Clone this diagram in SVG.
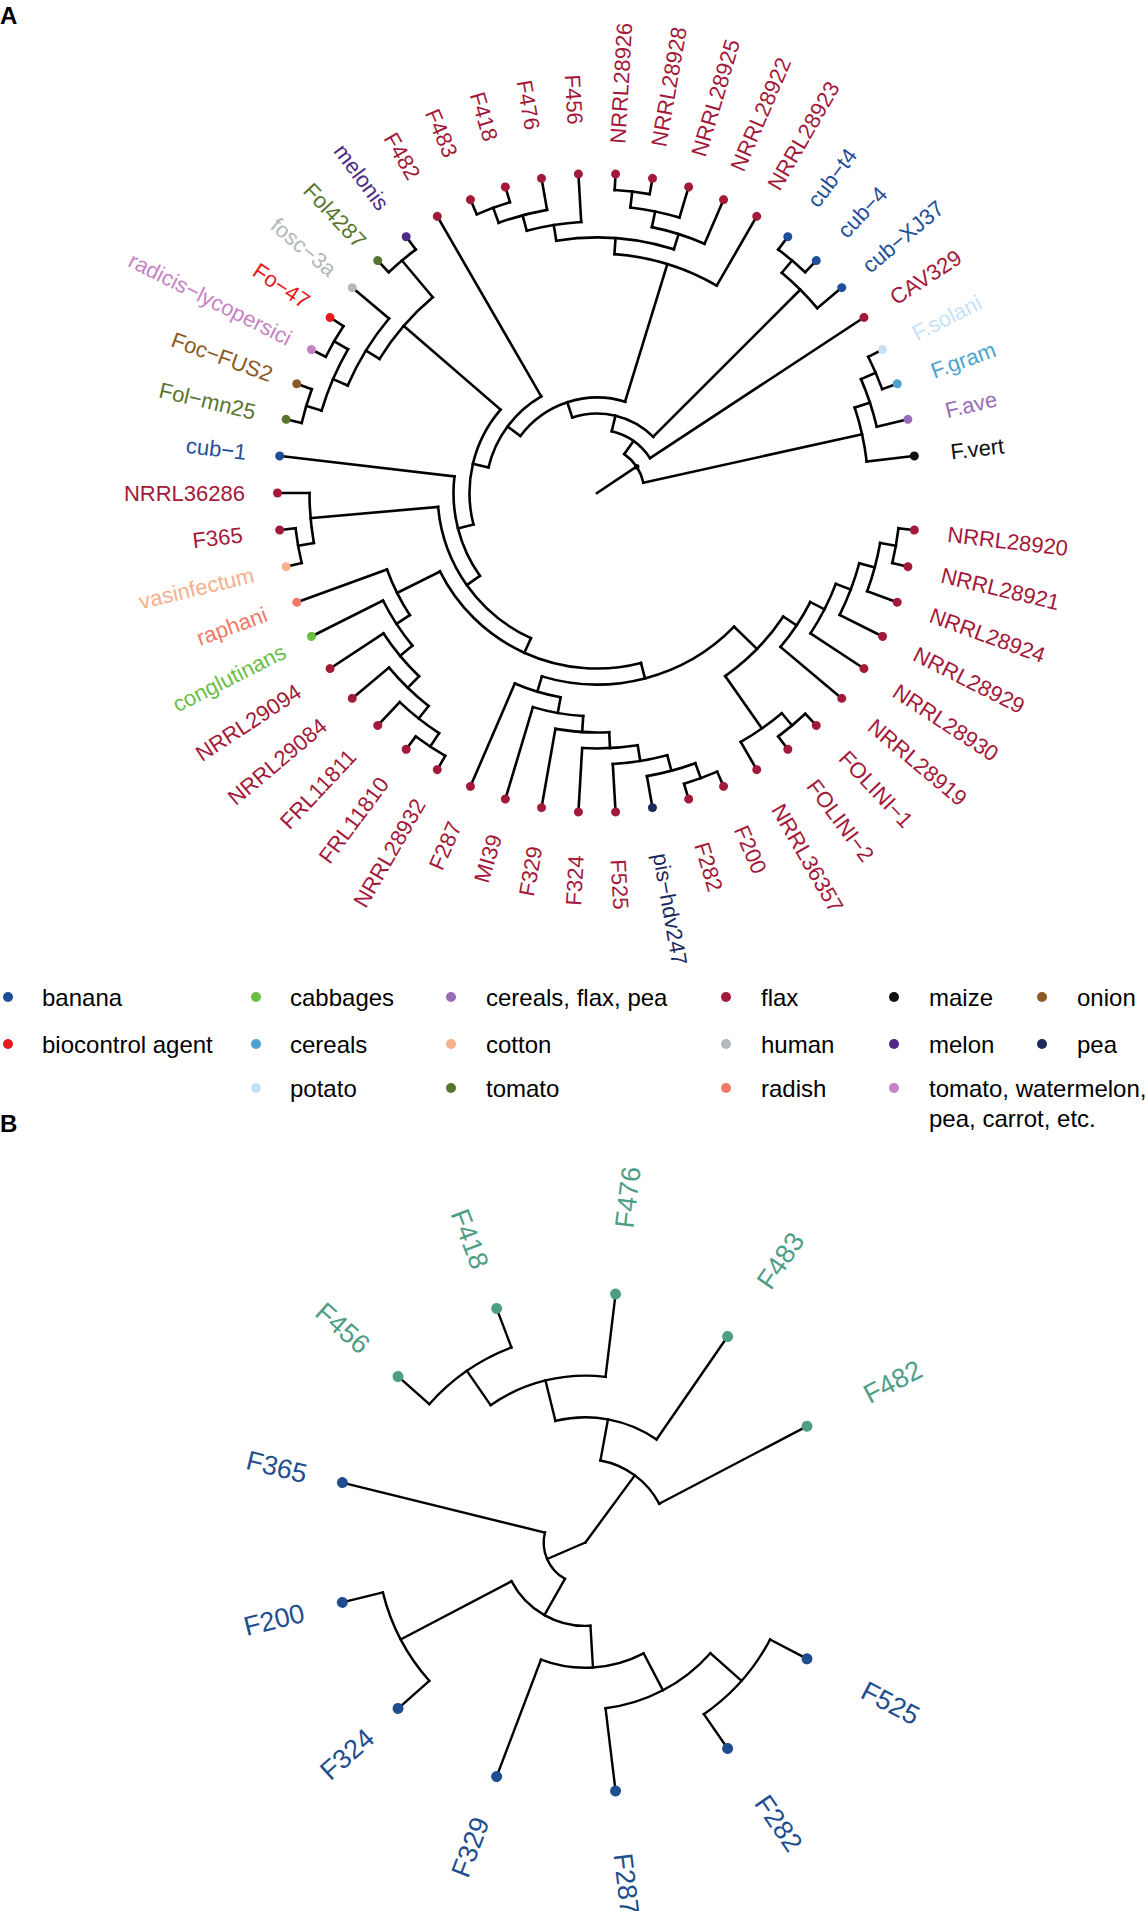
<svg xmlns="http://www.w3.org/2000/svg" width="1147" height="1911" viewBox="0 0 1147 1911">
<style>
.e{fill:none;stroke:#000;stroke-width:2.6;stroke-linecap:square}
.eb{fill:none;stroke:#000;stroke-width:2.4;stroke-linecap:square}
text{font-family:"Liberation Sans",Arial,Helvetica,sans-serif}
.ta{font-size:22px}
.tb{font-size:27px}
.f{text-anchor:end}
.lg{font-size:24px}
.pl{font-size:24px;font-weight:bold}
.flax{fill:#A3193A}.ban{fill:#1F4E99}.pea{fill:#1B2A5C}.bio{fill:#E41A1C}.cab{fill:#6ABE45}
.cer{fill:#4BA3CF}.pot{fill:#C6E2F7}.cfp{fill:#9B6DB8}.cot{fill:#F7B08C}.tom{fill:#59752D}
.hum{fill:#B3B8BA}.rad{fill:#F27866}.mai{fill:#111111}.mel{fill:#4E2A87}.twp{fill:#C683C3}.oni{fill:#8D5A26}
.teal{fill:#4E9E86}.blue{fill:#1F4E8F}
</style>
<rect width="1147" height="1911" fill="#fff"/>
<text class="pl" x="0" y="24">A</text>
<text class="pl" x="0" y="1132">B</text>

<!-- ===== Tree A connectors ===== -->
<g id="edgesA" class="e" transform="translate(597,493)">
<line x1="287.5" x2="303.5" transform="rotate(10)"/>
<line x1="271.5" x2="287.5" transform="rotate(15)"/>
<line x1="255.5" x2="271.5" transform="rotate(20.833)"/>
<line x1="239.5" x2="255.5" transform="rotate(27.083)"/>
<line x1="223.5" x2="239.5" transform="rotate(33.542)"/>
<line x1="287.5" x2="303.5" transform="rotate(50)"/>
<line x1="223.5" x2="287.5" transform="rotate(55)"/>
<line x1="191.5" x2="223.5" transform="rotate(44.271)"/>
<line x1="287.5" x2="303.5" transform="rotate(70)"/>
<line x1="271.5" x2="287.5" transform="rotate(75)"/>
<line x1="255.5" x2="271.5" transform="rotate(80.833)"/>
<line x1="239.5" x2="255.5" transform="rotate(87.083)"/>
<line x1="223.5" x2="239.5" transform="rotate(93.542)"/>
<line x1="207.5" x2="223.5" transform="rotate(100.104)"/>
<line x1="191.5" x2="207.5" transform="rotate(106.719)"/>
<line x1="175.5" x2="191.5" transform="rotate(75.495)"/>
<line x1="287.5" x2="303.5" transform="rotate(123.333)"/>
<line x1="271.5" x2="287.5" transform="rotate(128.333)"/>
<line x1="255.5" x2="271.5" transform="rotate(134.167)"/>
<line x1="239.5" x2="255.5" transform="rotate(140.417)"/>
<line x1="223.5" x2="239.5" transform="rotate(146.875)"/>
<line x1="175.5" x2="223.5" transform="rotate(153.438)"/>
<line x1="159.5" x2="175.5" transform="rotate(114.466)"/>
<line x1="287.5" x2="303.5" transform="rotate(170)"/>
<line x1="159.5" x2="287.5" transform="rotate(175)"/>
<line x1="143.5" x2="159.5" transform="rotate(144.733)"/>
<line x1="127.5" x2="143.5" transform="rotate(165.7)"/>
<line x1="287.5" x2="303.5" transform="rotate(196.667)"/>
<line x1="287.5" x2="303.5" transform="rotate(210)"/>
<line x1="271.5" x2="287.5" transform="rotate(203.333)"/>
<line x1="255.5" x2="271.5" transform="rotate(211.667)"/>
<line x1="255.5" x2="303.5" transform="rotate(230)"/>
<line x1="127.5" x2="255.5" transform="rotate(220.833)"/>
<line x1="111.5" x2="127.5" transform="rotate(193.27)"/>
<line x1="95.5" x2="111.5" transform="rotate(216.63)"/>
<line x1="287.5" x2="303.5" transform="rotate(250)"/>
<line x1="271.5" x2="287.5" transform="rotate(255)"/>
<line x1="255.5" x2="271.5" transform="rotate(260.833)"/>
<line x1="287.5" x2="303.5" transform="rotate(276.667)"/>
<line x1="271.5" x2="287.5" transform="rotate(281.667)"/>
<line x1="255.5" x2="271.5" transform="rotate(287.5)"/>
<line x1="239.5" x2="255.5" transform="rotate(274.167)"/>
<line x1="95.5" x2="239.5" transform="rotate(287.083)"/>
<line x1="79.5" x2="95.5" transform="rotate(251.86)"/>
<line x1="287.5" x2="303.5" transform="rotate(310)"/>
<line x1="79.5" x2="287.5" transform="rotate(315)"/>
<line x1="63.5" x2="79.5" transform="rotate(283.43)"/>
<line x1="47.5" x2="63.5" transform="rotate(305.05)"/>
<line x1="287.5" x2="303.5" transform="rotate(336.667)"/>
<line x1="271.5" x2="287.5" transform="rotate(341.667)"/>
<line x1="47.5" x2="271.5" transform="rotate(347.5)"/>
<line x1="0" x2="47.5" transform="rotate(326.29)"/>
<!-- tip branches -->
<line x1="303.5" x2="319.5" transform="rotate(6.667)"/>
<line x1="303.5" x2="319.5" transform="rotate(13.333)"/>
<line x1="287.5" x2="319.5" transform="rotate(20)"/>
<line x1="271.5" x2="319.5" transform="rotate(26.667)"/>
<line x1="255.5" x2="319.5" transform="rotate(33.333)"/>
<line x1="239.5" x2="319.5" transform="rotate(40)"/>
<line x1="303.5" x2="319.5" transform="rotate(46.667)"/>
<line x1="303.5" x2="319.5" transform="rotate(53.333)"/>
<line x1="287.5" x2="319.5" transform="rotate(60)"/>
<line x1="303.5" x2="319.5" transform="rotate(66.667)"/>
<line x1="303.5" x2="319.5" transform="rotate(73.333)"/>
<line x1="287.5" x2="319.5" transform="rotate(80)"/>
<line x1="271.5" x2="319.5" transform="rotate(86.667)"/>
<line x1="255.5" x2="319.5" transform="rotate(93.333)"/>
<line x1="239.5" x2="319.5" transform="rotate(100)"/>
<line x1="223.5" x2="319.5" transform="rotate(106.667)"/>
<line x1="207.5" x2="319.5" transform="rotate(113.333)"/>
<line x1="303.5" x2="319.5" transform="rotate(120)"/>
<line x1="303.5" x2="319.5" transform="rotate(126.667)"/>
<line x1="287.5" x2="319.5" transform="rotate(133.333)"/>
<line x1="271.5" x2="319.5" transform="rotate(140)"/>
<line x1="255.5" x2="319.5" transform="rotate(146.667)"/>
<line x1="239.5" x2="319.5" transform="rotate(153.333)"/>
<line x1="223.5" x2="319.5" transform="rotate(160)"/>
<line x1="303.5" x2="319.5" transform="rotate(166.667)"/>
<line x1="303.5" x2="319.5" transform="rotate(173.333)"/>
<line x1="287.5" x2="319.5" transform="rotate(180)"/>
<line x1="143.5" x2="319.5" transform="rotate(186.667)"/>
<line x1="303.5" x2="319.5" transform="rotate(193.333)"/>
<line x1="303.5" x2="319.5" transform="rotate(200)"/>
<line x1="303.5" x2="319.5" transform="rotate(206.667)"/>
<line x1="303.5" x2="319.5" transform="rotate(213.333)"/>
<line x1="271.5" x2="319.5" transform="rotate(220)"/>
<line x1="303.5" x2="319.5" transform="rotate(226.667)"/>
<line x1="303.5" x2="319.5" transform="rotate(233.333)"/>
<line x1="111.5" x2="319.5" transform="rotate(240)"/>
<line x1="303.5" x2="319.5" transform="rotate(246.667)"/>
<line x1="303.5" x2="319.5" transform="rotate(253.333)"/>
<line x1="287.5" x2="319.5" transform="rotate(260)"/>
<line x1="271.5" x2="319.5" transform="rotate(266.667)"/>
<line x1="303.5" x2="319.5" transform="rotate(273.333)"/>
<line x1="303.5" x2="319.5" transform="rotate(280)"/>
<line x1="287.5" x2="319.5" transform="rotate(286.667)"/>
<line x1="271.5" x2="319.5" transform="rotate(293.333)"/>
<line x1="239.5" x2="319.5" transform="rotate(300)"/>
<line x1="303.5" x2="319.5" transform="rotate(306.667)"/>
<line x1="303.5" x2="319.5" transform="rotate(313.333)"/>
<line x1="287.5" x2="319.5" transform="rotate(320)"/>
<line x1="63.5" x2="319.5" transform="rotate(326.667)"/>
<line x1="303.5" x2="319.5" transform="rotate(333.333)"/>
<line x1="303.5" x2="319.5" transform="rotate(340)"/>
<line x1="287.5" x2="319.5" transform="rotate(346.667)"/>
<line x1="271.5" x2="319.5" transform="rotate(353.333)"/>
<!-- arcs -->
<circle r="303.5" transform="rotate(6.667)" stroke-dasharray="35.31 4000"/>
<circle r="287.5" transform="rotate(10)" stroke-dasharray="50.18 4000"/>
<circle r="271.5" transform="rotate(15)" stroke-dasharray="55.28 4000"/>
<circle r="255.5" transform="rotate(20.833)" stroke-dasharray="55.74 4000"/>
<circle r="239.5" transform="rotate(27.083)" stroke-dasharray="53.99 4000"/>
<circle r="303.5" transform="rotate(46.667)" stroke-dasharray="35.31 4000"/>
<circle r="287.5" transform="rotate(50)" stroke-dasharray="50.18 4000"/>
<circle r="223.5" transform="rotate(33.542)" stroke-dasharray="83.70 4000"/>
<circle r="303.5" transform="rotate(66.667)" stroke-dasharray="35.31 4000"/>
<circle r="287.5" transform="rotate(70)" stroke-dasharray="50.18 4000"/>
<circle r="271.5" transform="rotate(75)" stroke-dasharray="55.28 4000"/>
<circle r="255.5" transform="rotate(80.833)" stroke-dasharray="55.74 4000"/>
<circle r="239.5" transform="rotate(87.083)" stroke-dasharray="53.99 4000"/>
<circle r="223.5" transform="rotate(93.542)" stroke-dasharray="51.20 4000"/>
<circle r="207.5" transform="rotate(100.104)" stroke-dasharray="47.91 4000"/>
<circle r="191.5" transform="rotate(44.271)" stroke-dasharray="208.72 4000"/>
<circle r="303.5" transform="rotate(120)" stroke-dasharray="35.31 4000"/>
<circle r="287.5" transform="rotate(123.333)" stroke-dasharray="50.18 4000"/>
<circle r="271.5" transform="rotate(128.333)" stroke-dasharray="55.28 4000"/>
<circle r="255.5" transform="rotate(134.167)" stroke-dasharray="55.74 4000"/>
<circle r="239.5" transform="rotate(140.417)" stroke-dasharray="53.99 4000"/>
<circle r="223.5" transform="rotate(146.875)" stroke-dasharray="51.20 4000"/>
<circle r="175.5" transform="rotate(75.495)" stroke-dasharray="238.74 4000"/>
<circle r="303.5" transform="rotate(166.667)" stroke-dasharray="35.31 4000"/>
<circle r="287.5" transform="rotate(170)" stroke-dasharray="50.18 4000"/>
<circle r="159.5" transform="rotate(114.466)" stroke-dasharray="168.51 4000"/>
<circle r="143.5" transform="rotate(144.733)" stroke-dasharray="105.03 4000"/>
<circle r="303.5" transform="rotate(193.333)" stroke-dasharray="35.31 4000"/>
<circle r="303.5" transform="rotate(206.667)" stroke-dasharray="35.31 4000"/>
<circle r="287.5" transform="rotate(196.667)" stroke-dasharray="66.90 4000"/>
<circle r="271.5" transform="rotate(203.333)" stroke-dasharray="78.98 4000"/>
<circle r="303.5" transform="rotate(226.667)" stroke-dasharray="35.31 4000"/>
<circle r="255.5" transform="rotate(211.667)" stroke-dasharray="81.75 4000"/>
<circle r="127.5" transform="rotate(165.7)" stroke-dasharray="122.69 4000"/>
<circle r="111.5" transform="rotate(193.27)" stroke-dasharray="90.94 4000"/>
<circle r="303.5" transform="rotate(246.667)" stroke-dasharray="35.31 4000"/>
<circle r="287.5" transform="rotate(250)" stroke-dasharray="50.18 4000"/>
<circle r="271.5" transform="rotate(255)" stroke-dasharray="55.28 4000"/>
<circle r="303.5" transform="rotate(273.333)" stroke-dasharray="35.31 4000"/>
<circle r="287.5" transform="rotate(276.667)" stroke-dasharray="50.18 4000"/>
<circle r="271.5" transform="rotate(281.667)" stroke-dasharray="55.28 4000"/>
<circle r="255.5" transform="rotate(260.833)" stroke-dasharray="118.92 4000"/>
<circle r="239.5" transform="rotate(274.167)" stroke-dasharray="107.98 4000"/>
<circle r="95.5" transform="rotate(216.63)" stroke-dasharray="117.43 4000"/>
<circle r="303.5" transform="rotate(306.667)" stroke-dasharray="35.31 4000"/>
<circle r="287.5" transform="rotate(310)" stroke-dasharray="50.18 4000"/>
<circle r="79.5" transform="rotate(251.86)" stroke-dasharray="87.61 4000"/>
<circle r="63.5" transform="rotate(283.43)" stroke-dasharray="47.92 4000"/>
<circle r="303.5" transform="rotate(333.333)" stroke-dasharray="35.31 4000"/>
<circle r="287.5" transform="rotate(336.667)" stroke-dasharray="50.18 4000"/>
<circle r="271.5" transform="rotate(341.667)" stroke-dasharray="55.28 4000"/>
<circle r="47.5" transform="rotate(305.05)" stroke-dasharray="35.19 4000"/>
</g>
<circle cx="636.7" cy="466.7" r="2.8" fill="#000"/>

<!-- ===== Tree A tips ===== -->
<g id="tipsA" transform="translate(597,493)">
<g id="A-NRRL28920" class="flax" transform="rotate(6.667)"><circle cx="319.5" r="4.5"/><text class="ta" x="353" dy=".36em">NRRL28920</text></g>
<g id="A-NRRL28921" class="flax" transform="rotate(13.333)"><circle cx="319.5" r="4.5"/><text class="ta" x="354" dy=".36em">NRRL28921</text></g>
<g id="A-NRRL28924" class="flax" transform="rotate(20)"><circle cx="319.5" r="4.5"/><text class="ta" x="355" dy=".36em">NRRL28924</text></g>
<g id="A-NRRL28929" class="flax" transform="rotate(26.667)"><circle cx="319.5" r="4.5"/><text class="ta" x="356" dy=".36em">NRRL28929</text></g>
<g id="A-NRRL28930" class="flax" transform="rotate(33.333)"><circle cx="319.5" r="4.5"/><text class="ta" x="357" dy=".36em">NRRL28930</text></g>
<g id="A-NRRL28919" class="flax" transform="rotate(40)"><circle cx="319.5" r="4.5"/><text class="ta" x="358" dy=".36em">NRRL28919</text></g>
<g id="A-FOLINI-1" class="flax" transform="rotate(46.667)"><circle cx="319.5" r="4.5"/><text class="ta" x="359" dy=".36em">FOLINI−1</text></g>
<g id="A-FOLINI-2" class="flax" transform="rotate(53.333)"><circle cx="319.5" r="4.5"/><text class="ta" x="360" dy=".36em">FOLINI−2</text></g>
<g id="A-NRRL36357" class="flax" transform="rotate(60)"><circle cx="319.5" r="4.5"/><text class="ta" x="361" dy=".36em">NRRL36357</text></g>
<g id="A-F200" class="flax" transform="rotate(66.667)"><circle cx="319.5" r="4.5"/><text class="ta" x="363" dy=".36em">F200</text></g>
<g id="A-F282" class="flax" transform="rotate(73.333)"><circle cx="319.5" r="4.5"/><text class="ta" x="365" dy=".36em">F282</text></g>
<g id="A-pis-hdv247" class="pea" transform="rotate(80)"><circle cx="319.5" r="4.5"/><text class="ta" x="366" dy=".36em">pis−hdv247</text></g>
<g id="A-F525" class="flax" transform="rotate(86.667)"><circle cx="319.5" r="4.5"/><text class="ta" x="367" dy=".36em">F525</text></g>
<g id="A-F324" class="flax" transform="rotate(93.333)"><circle cx="319.5" r="4.5"/><text class="ta f" transform="translate(363,0) rotate(180)" dy=".36em">F324</text></g>
<g id="A-F329" class="flax" transform="rotate(100)"><circle cx="319.5" r="4.5"/><text class="ta f" transform="translate(359,0) rotate(180)" dy=".36em">F329</text></g>
<g id="A-MI39" class="flax" transform="rotate(106.667)"><circle cx="319.5" r="4.5"/><text class="ta f" transform="translate(357,0) rotate(180)" dy=".36em">MI39</text></g>
<g id="A-F287" class="flax" transform="rotate(113.333)"><circle cx="319.5" r="4.5"/><text class="ta f" transform="translate(359,0) rotate(180)" dy=".36em">F287</text></g>
<g id="A-NRRL28932" class="flax" transform="rotate(120)"><circle cx="319.5" r="4.5"/><text class="ta f" transform="translate(355,0) rotate(180)" dy=".36em">NRRL28932</text></g>
<g id="A-FRL11810" class="flax" transform="rotate(126.667)"><circle cx="319.5" r="4.5"/><text class="ta f" transform="translate(357,0) rotate(180)" dy=".36em">FRL11810</text></g>
<g id="A-FRL11811" class="flax" transform="rotate(133.333)"><circle cx="319.5" r="4.5"/><text class="ta f" transform="translate(357,0) rotate(180)" dy=".36em">FRL11811</text></g>
<g id="A-NRRL29084" class="flax" transform="rotate(140)"><circle cx="319.5" r="4.5"/><text class="ta f" transform="translate(357,0) rotate(180)" dy=".36em">NRRL29084</text></g>
<g id="A-NRRL29094" class="flax" transform="rotate(146.667)"><circle cx="319.5" r="4.5"/><text class="ta f" transform="translate(357,0) rotate(180)" dy=".36em">NRRL29094</text></g>
<g id="A-conglutinans" class="cab" transform="rotate(153.333)"><circle cx="319.5" r="4.5"/><text class="ta f" transform="translate(350,0) rotate(180)" dy=".36em">conglutinans</text></g>
<g id="A-raphani" class="rad" transform="rotate(160)"><circle cx="319.5" r="4.5"/><text class="ta f" transform="translate(352,0) rotate(180)" dy=".36em">raphani</text></g>
<g id="A-vasinfectum" class="cot" transform="rotate(166.667)"><circle cx="319.5" r="4.5"/><text class="ta f" transform="translate(353,0) rotate(180)" dy=".36em">vasinfectum</text></g>
<g id="A-F365" class="flax" transform="rotate(173.333)"><circle cx="319.5" r="4.5"/><text class="ta f" transform="translate(357,0) rotate(180)" dy=".36em">F365</text></g>
<g id="A-NRRL36286" class="flax" transform="rotate(180)"><circle cx="319.5" r="4.5"/><text class="ta f" transform="translate(352,0) rotate(180)" dy=".36em">NRRL36286</text></g>
<g id="A-cub-1" class="ban" transform="rotate(186.667)"><circle cx="319.5" r="4.5"/><text class="ta f" transform="translate(353,0) rotate(180)" dy=".36em">cub−1</text></g>
<g id="A-Fol-mn25" class="tom" transform="rotate(193.333)"><circle cx="319.5" r="4.5"/><text class="ta f" transform="translate(351,0) rotate(180)" dy=".36em">Fol−mn25</text></g>
<g id="A-Foc-FUS2" class="oni" transform="rotate(200)"><circle cx="319.5" r="4.5"/><text class="ta f" transform="translate(346,0) rotate(180)" dy=".36em">Foc−FUS2</text></g>
<g id="A-radicis-lycopersici" class="twp" transform="rotate(206.667)"><circle cx="319.5" r="4.5"/><text class="ta f" transform="translate(343,0) rotate(180)" dy=".36em">radicis−lycopersici</text></g>
<g id="A-Fo-47" class="bio" transform="rotate(213.333)"><circle cx="319.5" r="4.5"/><text class="ta f" transform="translate(346,0) rotate(180)" dy=".36em">Fo−47</text></g>
<g id="A-fosc-3a" class="hum" transform="rotate(220)"><circle cx="319.5" r="4.5"/><text class="ta f" transform="translate(344,0) rotate(180)" dy=".36em">fosc−3a</text></g>
<g id="A-Fol4287" class="tom" transform="rotate(226.667)"><circle cx="319.5" r="4.5"/><text class="ta f" transform="translate(342,0) rotate(180)" dy=".36em">Fol4287</text></g>
<g id="A-melonis" class="mel" transform="rotate(233.333)"><circle cx="319.5" r="4.5"/><text class="ta f" transform="translate(356,0) rotate(180)" dy=".36em">melonis</text></g>
<g id="A-F482" class="flax" transform="rotate(240)"><circle cx="319.5" r="4.5"/><text class="ta f" transform="translate(364,0) rotate(180)" dy=".36em">F482</text></g>
<g id="A-F483" class="flax" transform="rotate(246.667)"><circle cx="319.5" r="4.5"/><text class="ta f" transform="translate(367,0) rotate(180)" dy=".36em">F483</text></g>
<g id="A-F418" class="flax" transform="rotate(253.333)"><circle cx="319.5" r="4.5"/><text class="ta f" transform="translate(368,0) rotate(180)" dy=".36em">F418</text></g>
<g id="A-F476" class="flax" transform="rotate(260)"><circle cx="319.5" r="4.5"/><text class="ta f" transform="translate(369,0) rotate(180)" dy=".36em">F476</text></g>
<g id="A-F456" class="flax" transform="rotate(266.667)"><circle cx="319.5" r="4.5"/><text class="ta f" transform="translate(369,0) rotate(180)" dy=".36em">F456</text></g>
<g id="A-NRRL28926" class="flax" transform="rotate(273.333)"><circle cx="319.5" r="4.5"/><text class="ta" x="350" dy=".36em">NRRL28926</text></g>
<g id="A-NRRL28928" class="flax" transform="rotate(280)"><circle cx="319.5" r="4.5"/><text class="ta" x="352" dy=".36em">NRRL28928</text></g>
<g id="A-NRRL28925" class="flax" transform="rotate(286.667)"><circle cx="319.5" r="4.5"/><text class="ta" x="352" dy=".36em">NRRL28925</text></g>
<g id="A-NRRL28922" class="flax" transform="rotate(293.333)"><circle cx="319.5" r="4.5"/><text class="ta" x="352" dy=".36em">NRRL28922</text></g>
<g id="A-NRRL28923" class="flax" transform="rotate(300)"><circle cx="319.5" r="4.5"/><text class="ta" x="352" dy=".36em">NRRL28923</text></g>
<g id="A-cub-t4" class="ban" transform="rotate(306.667)"><circle cx="319.5" r="4.5"/><text class="ta" x="360" dy=".36em">cub−t4</text></g>
<g id="A-cub-4" class="ban" transform="rotate(313.333)"><circle cx="319.5" r="4.5"/><text class="ta" x="356" dy=".36em">cub−4</text></g>
<g id="A-cub-XJ37" class="ban" transform="rotate(320)"><circle cx="319.5" r="4.5"/><text class="ta" x="350" dy=".36em">cub−XJ37</text></g>
<g id="A-CAV329" class="flax" transform="rotate(326.667)"><circle cx="319.5" r="4.5"/><text class="ta" x="353" dy=".36em">CAV329</text></g>
<g id="A-F.solani" class="pot" transform="rotate(333.333)"><circle cx="319.5" r="4.5"/><text class="ta" x="354" dy=".36em">F.solani</text></g>
<g id="A-F.gram" class="cer" transform="rotate(340)"><circle cx="319.5" r="4.5"/><text class="ta" x="356" dy=".36em">F.gram</text></g>
<g id="A-F.ave" class="cfp" transform="rotate(346.667)"><circle cx="319.5" r="4.5"/><text class="ta" x="358" dy=".36em">F.ave</text></g>
<g id="A-F.vert" class="mai" transform="rotate(353.333)"><circle cx="319.5" r="4.5"/><text class="ta" x="356" dy=".36em">F.vert</text></g>
</g>

<!-- ===== Legend ===== -->
<g id="legend" class="lg">
<g id="lg-banana" class="ban"><circle cx="8" cy="997" r="5"/><text x="42" y="1005.5" fill="#000">banana</text></g>
<g id="lg-biocontrol" class="bio"><circle cx="8" cy="1044" r="5"/><text x="42" y="1052.5" fill="#000">biocontrol agent</text></g>
<g id="lg-cabbages" class="cab"><circle cx="256" cy="997" r="5"/><text x="290" y="1005.5" fill="#000">cabbages</text></g>
<g id="lg-cereals" class="cer"><circle cx="256" cy="1044" r="5"/><text x="290" y="1052.5" fill="#000">cereals</text></g>
<g id="lg-potato" class="pot"><circle cx="256" cy="1088" r="5"/><text x="290" y="1096.5" fill="#000">potato</text></g>
<g id="lg-cfp" class="cfp"><circle cx="451" cy="997" r="5"/><text x="486" y="1005.5" fill="#000">cereals, flax, pea</text></g>
<g id="lg-cotton" class="cot"><circle cx="451" cy="1044" r="5"/><text x="486" y="1052.5" fill="#000">cotton</text></g>
<g id="lg-tomato" class="tom"><circle cx="451" cy="1088" r="5"/><text x="486" y="1096.5" fill="#000">tomato</text></g>
<g id="lg-flax" class="flax"><circle cx="726" cy="997" r="5"/><text x="761" y="1005.5" fill="#000">flax</text></g>
<g id="lg-human" class="hum"><circle cx="726" cy="1044" r="5"/><text x="761" y="1052.5" fill="#000">human</text></g>
<g id="lg-radish" class="rad"><circle cx="726" cy="1088" r="5"/><text x="761" y="1096.5" fill="#000">radish</text></g>
<g id="lg-maize" class="mai"><circle cx="894" cy="997" r="5"/><text x="929" y="1005.5" fill="#000">maize</text></g>
<g id="lg-melon" class="mel"><circle cx="894" cy="1044" r="5"/><text x="929" y="1052.5" fill="#000">melon</text></g>
<g id="lg-twp" class="twp"><circle cx="894" cy="1088" r="5"/><text x="929" y="1096.5" fill="#000">tomato, watermelon,</text><text x="929" y="1126.5" fill="#000">pea, carrot, etc.</text></g>
<g id="lg-onion" class="oni"><circle cx="1042" cy="997" r="5"/><text x="1077" y="1005.5" fill="#000">onion</text></g>
<g id="lg-pea" class="pea"><circle cx="1042" cy="1044" r="5"/><text x="1077" y="1052.5" fill="#000">pea</text></g>
</g>

<!-- ===== Tree B connectors ===== -->
<g id="edgesB" class="eb" transform="translate(585.4,1542.5)">
<line x1="166.9" x2="208.6" transform="rotate(41.538)"/>
<line x1="125.2" x2="166.9" transform="rotate(62.308)"/>
<line x1="83.4" x2="125.2" transform="rotate(86.538)"/>
<line x1="83.4" x2="208.6" transform="rotate(152.308)"/>
<line x1="41.7" x2="83.4" transform="rotate(119.423)"/>
<line x1="0" x2="41.7" transform="rotate(156.635)"/>
<line x1="166.9" x2="208.6" transform="rotate(235.385)"/>
<line x1="125.2" x2="166.9" transform="rotate(256.154)"/>
<line x1="83.4" x2="125.2" transform="rotate(280.385)"/>
<line x1="0" x2="83.4" transform="rotate(306.346)"/>
<line x1="208.6" x2="250.3" transform="rotate(27.692)"/>
<line x1="208.6" x2="250.3" transform="rotate(55.385)"/>
<line x1="166.9" x2="250.3" transform="rotate(83.077)"/>
<line x1="125.2" x2="250.3" transform="rotate(110.769)"/>
<line x1="208.6" x2="250.3" transform="rotate(138.462)"/>
<line x1="208.6" x2="250.3" transform="rotate(166.154)"/>
<line x1="41.7" x2="250.3" transform="rotate(193.846)"/>
<line x1="208.6" x2="250.3" transform="rotate(221.538)"/>
<line x1="208.6" x2="250.3" transform="rotate(249.231)"/>
<line x1="166.9" x2="250.3" transform="rotate(276.923)"/>
<line x1="125.2" x2="250.3" transform="rotate(304.615)"/>
<line x1="83.4" x2="250.3" transform="rotate(332.308)"/>
<circle r="208.6" transform="rotate(27.692)" stroke-dasharray="100.82 4000"/>
<circle r="166.9" transform="rotate(41.538)" stroke-dasharray="121.0 4000"/>
<circle r="125.2" transform="rotate(62.308)" stroke-dasharray="105.9 4000"/>
<circle r="208.6" transform="rotate(138.462)" stroke-dasharray="100.82 4000"/>
<circle r="83.4" transform="rotate(86.538)" stroke-dasharray="95.73 4000"/>
<circle r="41.7" transform="rotate(119.423)" stroke-dasharray="54.17 4000"/>
<circle r="208.6" transform="rotate(221.538)" stroke-dasharray="100.82 4000"/>
<circle r="166.9" transform="rotate(235.385)" stroke-dasharray="121.0 4000"/>
<circle r="125.2" transform="rotate(256.154)" stroke-dasharray="105.9 4000"/>
<circle r="83.4" transform="rotate(280.385)" stroke-dasharray="75.58 4000"/>
</g>

<!-- ===== Tree B tips ===== -->
<g id="tipsB" transform="translate(585.4,1542.5)">
<g id="B-F525" class="blue" transform="rotate(27.692)"><circle cx="250.3" r="5.5"/><text class="tb" x="314" dy=".36em">F525</text></g>
<g id="B-F282" class="blue" transform="rotate(55.385)"><circle cx="250.3" r="5.5"/><text class="tb" x="310" dy=".36em">F282</text></g>
<g id="B-F287" class="blue" transform="rotate(83.077)"><circle cx="250.3" r="5.5"/><text class="tb" x="313" dy=".36em">F287</text></g>
<g id="B-F329" class="blue" transform="rotate(110.769)"><circle cx="250.3" r="5.5"/><text class="tb f" transform="translate(295,0) rotate(180)" dy=".36em">F329</text></g>
<g id="B-F324" class="blue" transform="rotate(138.462)"><circle cx="250.3" r="5.5"/><text class="tb f" transform="translate(288,0) rotate(180)" dy=".36em">F324</text></g>
<g id="B-F200" class="blue" transform="rotate(166.154)"><circle cx="250.3" r="5.5"/><text class="tb f" transform="translate(290,0) rotate(180)" dy=".36em">F200</text></g>
<g id="B-F365" class="blue" transform="rotate(193.846)"><circle cx="250.3" r="5.5"/><text class="tb f" transform="translate(287,0) rotate(180)" dy=".36em">F365</text></g>
<g id="B-F456" class="teal" transform="rotate(221.538)"><circle cx="250.3" r="5.5"/><text class="tb f" transform="translate(293,0) rotate(180)" dy=".36em">F456</text></g>
<g id="B-F418" class="teal" transform="rotate(249.231)"><circle cx="250.3" r="5.5"/><text class="tb f" transform="translate(294,0) rotate(180)" dy=".36em">F418</text></g>
<g id="B-F476" class="teal" transform="rotate(276.923)"><circle cx="250.3" r="5.5"/><text class="tb" x="317" dy=".36em">F476</text></g>
<g id="B-F483" class="teal" transform="rotate(304.615)"><circle cx="250.3" r="5.5"/><text class="tb" x="312" dy=".36em">F483</text></g>
<g id="B-F482" class="teal" transform="rotate(332.308)"><circle cx="250.3" r="5.5"/><text class="tb" x="316" dy=".36em">F482</text></g>
</g>
</svg>
